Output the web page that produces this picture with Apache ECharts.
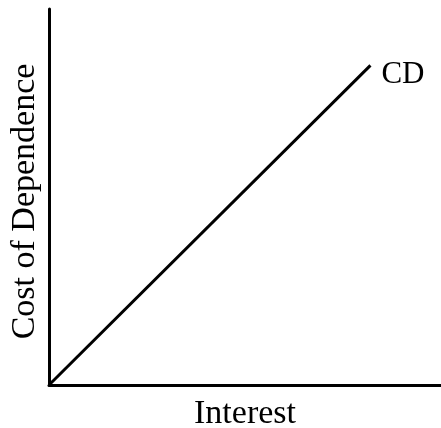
<!DOCTYPE html>
<html>
<head>
<meta charset="utf-8">
<style>
  html, body { margin: 0; padding: 0; background: #fff; }
  #chart { width: 441px; height: 428px; }
</style>
<script src="https://cdn.jsdelivr.net/npm/echarts@6/dist/echarts.min.js"></script>
</head>
<body>
<div id="chart"></div>
<script>
// curve endpoints (interest, cost of dependence) on a 0-100 scale
var interest = [0, 82]
var costOfDependence = [0, 85]
var curveName = 'CD'
var xName = 'Interest'
var yName = 'Cost of Dependence'

var chart = echarts.init(document.getElementById('chart'))
var font = 'Liberation Serif'

chart.setOption({
  animation: false,
  grid: {
    left: 49,
    right: 0,
    top: 9,
    bottom: 43,
    outerBoundsMode: 'none'
  },
  xAxis: {
    type: 'value',
    min: 0,
    max: 100,
    name: xName,
    nameLocation: 'middle',
    nameGap: 12,
    nameTextStyle: { color: '#000', fontFamily: font, fontSize: 34 },
    axisLine: { lineStyle: { color: '#000', width: 3 } },
    axisTick: { show: false },
    axisLabel: { show: false },
    splitLine: { show: false }
  },
  yAxis: {
    type: 'value',
    min: 0,
    max: 100,
    name: yName,
    nameLocation: 'middle',
    nameGap: 7,
    nameTextStyle: { color: '#000', fontFamily: font, fontSize: 34, padding: [0, 9, 0, 0] },
    axisLine: { lineStyle: { color: '#000', width: 3 } },
    axisTick: { show: false },
    axisLabel: { show: false },
    splitLine: { show: false }
  },
  series: [
    {
      type: 'line',
      name: curveName,
      data: interest.map(function (x, i) { return [x, costOfDependence[i]] }),
      symbol: 'none',
      lineStyle: { color: '#000', width: 3 },
      endLabel: {
        show: true,
        formatter: curveName,
        color: '#000',
        fontFamily: font,
        fontSize: 31,
        distance: 11,
        offset: [0, 9]
      }
    }
  ]
})
</script>
</body>
</html>
